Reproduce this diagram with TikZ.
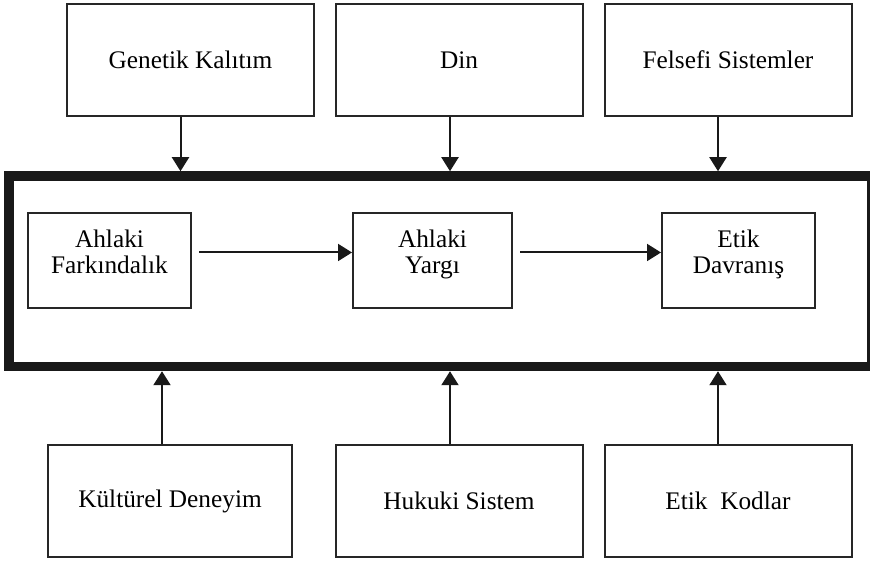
\documentclass[tikz,border=0pt]{standalone}
\usepackage{fontspec}
\setmainfont{Liberation Serif}
\usetikzlibrary{arrows.meta,positioning,calc}

\newcommand{\ikisatir}[2]{\raisebox{1mm}[\height][\depth]{\begin{tabular}{@{}c@{}}#1\\#2\end{tabular}}}

\begin{document}
\begin{tikzpicture}
  % Stiller
  \tikzstyle{etken}=[rectangle, draw=black!85, line width=0.04cm, minimum width=4.94cm, minimum height=2.24cm, inner sep=0pt, font=\fontsize{14.4pt}{14.8pt}\selectfont]
  \tikzstyle{asama}=[rectangle, draw=black!85, line width=0.04cm, minimum height=1.9cm, inner sep=0pt, font=\fontsize{14.4pt}{14.8pt}\selectfont]
  \tikzstyle{cerceve}=[rectangle, draw=black!90, line width=0.19cm, minimum width=17.255cm, minimum height=3.81cm, inner sep=0pt]
  \tikzstyle{ok}=[-{Triangle[width=0.34cm,length=0.28cm]}, line width=0.04cm, black!90]

  \useasboundingbox (0,0) rectangle (17.4,11.24);

  % Ust etkenler
  \node[etken] (genetik) at (3.81,10.04) {Genetik Kalıtım};
  \node[etken] (din) at (9.18,10.04) {Din};
  \node[etken] (felsefe) at (14.56,10.04) {Felsefi Sistemler};

  % Cerceve
  \node[cerceve] (surec) at (8.81,5.815) {};

  % Asamalar
  \node[asama, minimum width=3.26cm] (farkindalik) at (2.19,6.03) {\ikisatir{Ahlaki}{Farkındalık}};
  \node[asama, minimum width=3.18cm] (yargi) at (8.65,6.03) {\ikisatir{Ahlaki}{Yargı}};
  \node[asama, minimum width=3.06cm] (davranis) at (14.77,6.03) {\ikisatir{Etik}{Davranış}};

  % Alt etkenler
  \node[etken, minimum width=4.88cm] (kultur) at (3.4,1.22) {Kültürel Deneyim};
  \node[etken] (hukuk) at (9.18,1.22) {Hukuki Sistem};
  \node[etken] (kodlar) at (14.56,1.22) {Etik\ \ Kodlar};

  % Asamalar arasi oklar
  \draw[ok, shorten <=0.14cm] ([yshift=1.6mm]farkindalik.east) -- ([yshift=1.6mm]farkindalik.east -| yargi.west);
  \draw[ok, shorten <=0.14cm] ([yshift=1.6mm]yargi.east) -- ([yshift=1.6mm]yargi.east -| davranis.west);

  % Ustten gelen oklar
  \draw[ok] ([xshift=-2mm]genetik.south) -- ([xshift=-2mm]genetik.south |- surec.north);
  \draw[ok] ([xshift=-1.8mm]din.south) -- ([xshift=-1.8mm]din.south |- surec.north);
  \draw[ok] ([xshift=-2mm]felsefe.south) -- ([xshift=-2mm]felsefe.south |- surec.north);

  % Alttan gelen oklar
  \draw[ok] ([xshift=-1.6mm]kultur.north) -- ([xshift=-1.6mm]kultur.north |- surec.south);
  \draw[ok] ([xshift=-1.8mm]hukuk.north) -- ([xshift=-1.8mm]hukuk.north |- surec.south);
  \draw[ok] ([xshift=-2mm]kodlar.north) -- ([xshift=-2mm]kodlar.north |- surec.south);
\end{tikzpicture}
\end{document}
